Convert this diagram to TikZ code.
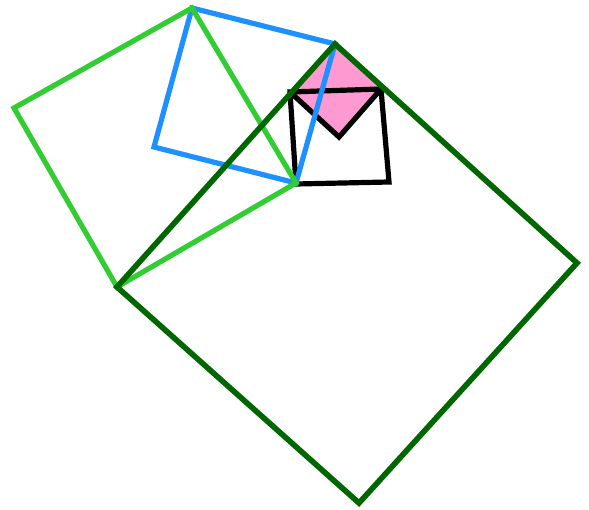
\documentclass[tikz,border=0pt]{standalone}
\usepackage{tikz}
\usepackage{xcolor}
\definecolor{cDark}{RGB}{0,102,0}
\definecolor{cLight}{RGB}{50,205,50}
\definecolor{cBlue}{RGB}{30,144,255}
\definecolor{cPink}{RGB}{255,153,210}
\tikzset{
	sq/.style={line width=5.2pt, line join=miter},
	bigsq/.style={sq, draw=cDark, line width=5.6pt},
	leftsq/.style={sq, draw=cLight},
	upsq/.style={sq, draw=cBlue},
	smallsq/.style={sq, draw=black},
}

\begin{document}
\begin{tikzpicture}[x=1pt, y=-1pt]
	\useasboundingbox (0,0) rectangle (589,510);
	% corners
	\coordinate (top)   at (335,44);
	\coordinate (right) at (577,263);
	\coordinate (bot)   at (359,503);
	\coordinate (left)  at (117,287);
	\coordinate (mid)   at (296,183);
	\coordinate (apex)  at (192,8);
	\coordinate (far)   at (14,108);
	\coordinate (inner) at (154,147);
	\coordinate (kA) at (290,92);
	\coordinate (kB) at (381,89);
	\coordinate (kC) at (389,182);
	\coordinate (kD) at (296,184);
	\coordinate (tip) at (339,137);
	\fill[cPink] (top) -- (kB) -- (tip) -- (kA) -- cycle;
	\draw[smallsq] (kA) -- (kB) -- (kC) -- (kD) -- cycle;
	\draw[smallsq] (kA) -- (tip) -- (kB);
	\draw[upsq] (apex) -- (top) -- (mid) -- (inner) -- cycle;
	\draw[leftsq] (apex) -- (mid) -- (left) -- (far) -- cycle;
	\draw[bigsq] (top) -- (right) -- (bot) -- (left) -- cycle;
\end{tikzpicture}
\end{document}
